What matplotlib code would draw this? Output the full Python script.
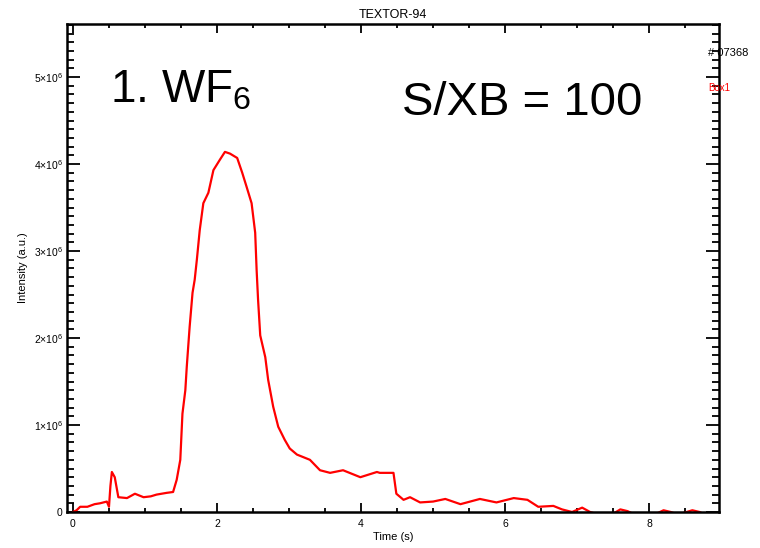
import matplotlib
matplotlib.use("Agg")
import matplotlib.pyplot as plt
from matplotlib.ticker import MultipleLocator, FixedLocator, FixedFormatter

plt.rcParams['font.family'] = ['Liberation Sans', 'DejaVu Sans']
plt.rcParams['mathtext.default'] = 'regular'

# --- Data ---
time_s = [0.00, 0.05, 0.10, 0.20, 0.30, 0.375, 0.47, 0.50, 0.52, 0.54, 0.58,
          0.63, 0.75, 0.86, 0.98, 1.08, 1.16, 1.30, 1.39, 1.44, 1.49, 1.52,
          1.56, 1.58, 1.62, 1.66, 1.69, 1.72, 1.76, 1.81, 1.88, 1.95, 2.04,
          2.11, 2.18, 2.28, 2.35, 2.41, 2.48, 2.53, 2.55, 2.57, 2.60, 2.67,
          2.71, 2.78, 2.85, 2.94, 3.01, 3.11, 3.29, 3.43, 3.57, 3.75, 3.99,
          4.22, 4.26, 4.45, 4.49, 4.59, 4.68, 4.82, 5.00, 5.17, 5.38, 5.65,
          5.88, 6.12, 6.31, 6.46, 6.67, 6.79, 6.93, 7.07, 7.18, 7.30, 7.50,
          7.60, 7.70, 7.80, 8.10, 8.20, 8.30, 8.40, 8.60, 8.70, 8.80, 8.97]
intensity = [0.00, 0.02, 0.06, 0.06, 0.09, 0.10, 0.12, 0.06, 0.30, 0.46, 0.40,
             0.17, 0.16, 0.21, 0.17, 0.18, 0.20, 0.22, 0.23, 0.37, 0.60, 1.13,
             1.40, 1.67, 2.13, 2.52, 2.67, 2.90, 3.24, 3.55, 3.67, 3.93, 4.05,
             4.14, 4.12, 4.07, 3.90, 3.74, 3.55, 3.21, 2.78, 2.44, 2.03, 1.78,
             1.52, 1.21, 0.98, 0.83, 0.73, 0.66, 0.60, 0.48, 0.45, 0.48, 0.40,
             0.46, 0.45, 0.45, 0.21, 0.14, 0.17, 0.11, 0.12, 0.15, 0.09, 0.15,
             0.11, 0.16, 0.14, 0.06, 0.07, 0.03, 0.00, 0.05, 0.00, -0.03, -0.02,
             0.03, 0.01, -0.03, -0.02, 0.02, 0.00, -0.03, 0.02, 0.00, -0.04, -0.04]
intensity = [v * 1e6 for v in intensity]

ytick_vals = [0, 1e6, 2e6, 3e6, 4e6, 5e6]
ytick_labels = ["0", "1×10$^6$", "2×10$^6$", "3×10$^6$", "4×10$^6$", "5×10$^6$"]
xtick_vals = [0, 2, 4, 6, 8]
xtick_labels = ["0", "2", "4", "6", "8"]

# --- Figure ---
fig = plt.figure(figsize=(7.6, 5.48), dpi=100)
ax = fig.add_axes([67 / 760, 1 - 512 / 548, 652 / 760, 488 / 548])

ax.plot(time_s, intensity, color='red', lw=1.6)

ax.set_xlim(-0.083, 8.97)
ax.set_ylim(0, 5.61e6)

ax.xaxis.set_major_locator(FixedLocator(xtick_vals))
ax.xaxis.set_major_formatter(FixedFormatter(xtick_labels))
ax.xaxis.set_minor_locator(MultipleLocator(0.5))
ax.yaxis.set_major_locator(FixedLocator(ytick_vals))
ax.yaxis.set_major_formatter(FixedFormatter(ytick_labels))
ax.yaxis.set_minor_locator(MultipleLocator(0.1e6))

ax.tick_params(axis='both', which='both', direction='in', top=True, right=True,
               width=1.3, colors='black', labelsize=7.5)
ax.tick_params(axis='x', which='major', length=6.5, pad=5)
ax.tick_params(axis='x', which='minor', length=3)
ax.tick_params(axis='y', which='major', length=9.5, pad=3)
ax.tick_params(axis='y', which='minor', length=5)
for sp in ax.spines.values():
    sp.set_linewidth(1.8)

ax.set_xlabel("Time (s)", fontsize=8, labelpad=2)
ax.set_ylabel("Intensity (a.u.)", fontsize=8, labelpad=4)
ax.set_title("TEXTOR-94", fontsize=9, pad=4)

# annotations
ax.text(0.066, 0.840, "1. WF$_{6}$", transform=ax.transAxes, fontsize=33,
        va='baseline', ha='left')
ax.text(0.514, 0.8135, "S/XB = 100", transform=ax.transAxes, fontsize=34,
        va='baseline', ha='left')
ax.text(0.983, 0.94, "# 07368", transform=ax.transAxes, fontsize=8,
        va='center', ha='left', clip_on=False)
ax.text(0.983, 0.869, "Box1", transform=ax.transAxes, fontsize=7,
        color='red', va='center', ha='left', clip_on=False)

fig.savefig("out.png", dpi=100)
